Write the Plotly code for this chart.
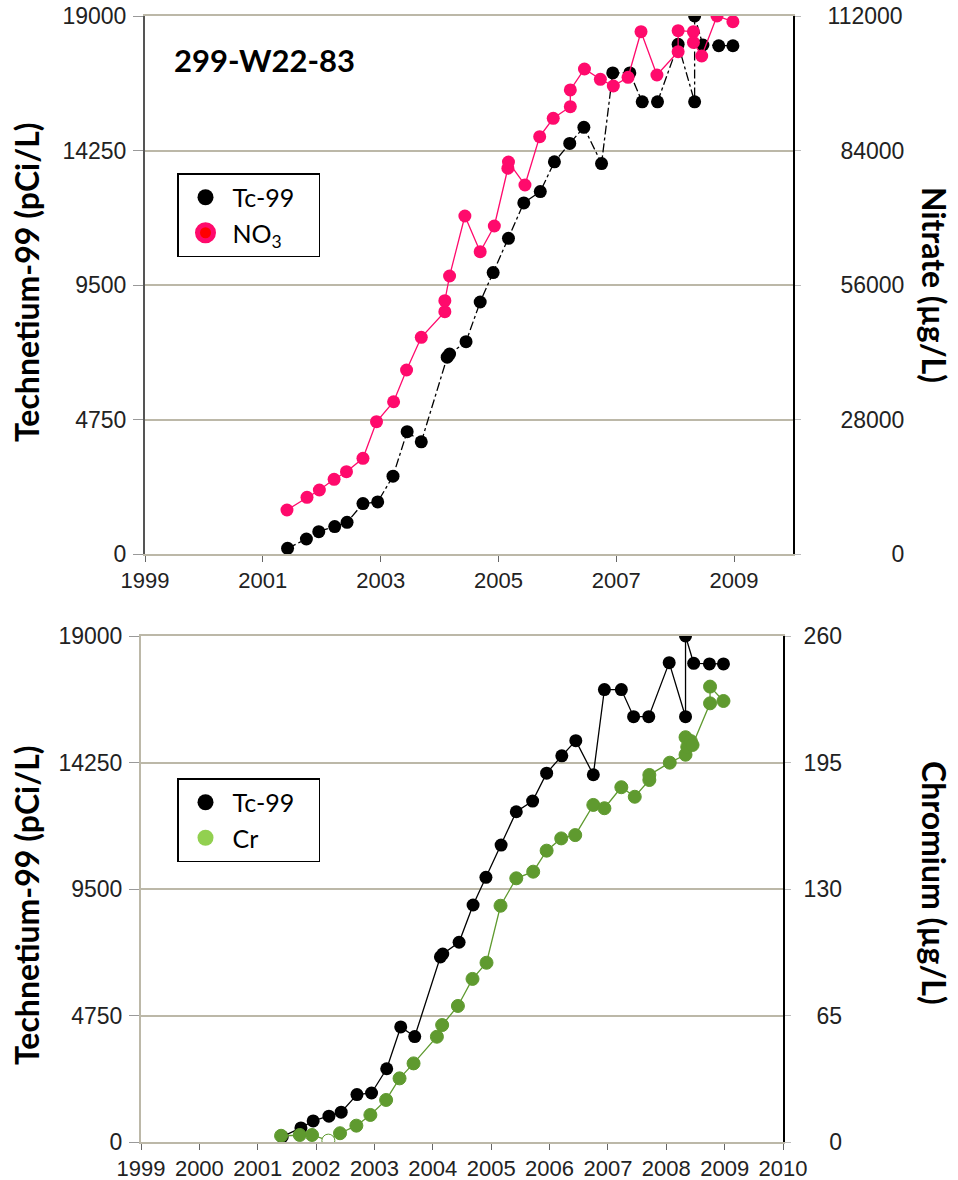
import plotly.graph_objects as go

# ---------------- data ----------------
tc_year = [2001.42, 2001.74, 2001.95, 2002.22, 2002.43, 2002.70, 2002.95, 2003.21, 2003.45, 2003.69,
           2004.13, 2004.17, 2004.45, 2004.69, 2004.91, 2005.17, 2005.43, 2005.71, 2005.95, 2006.21,
           2006.45, 2006.75, 2006.94, 2007.23, 2007.44, 2007.70, 2008.05, 2008.33, 2008.33, 2008.47,
           2008.74, 2008.98]
tc_val = [200, 530, 790, 970, 1120, 1780, 1840, 2750, 4320, 3960,
          6950, 7060, 7500, 8900, 9940, 11150, 12400, 12800, 13850, 14500,
          15070, 13790, 16990, 16990, 15970, 15970, 18000, 15970, 19000, 17975,
          17950, 17950]

no3_year = [2001.41, 2001.75, 2001.96, 2002.21, 2002.42, 2002.70, 2002.93, 2003.22, 2003.44, 2003.69,
            2004.09, 2004.09, 2004.17, 2004.43, 2004.69, 2004.93, 2005.16, 2005.17, 2005.45, 2005.70,
            2005.93, 2006.22, 2006.22, 2006.46, 2006.73, 2006.95, 2007.20, 2007.42, 2007.69, 2008.05,
            2008.05, 2008.31, 2008.31, 2008.45, 2008.71, 2008.98]
no3_val = [9160, 11800, 13320, 15550, 17130, 19920, 27540, 31700, 38300, 45110,
           50440, 52730, 57870, 70360, 62930, 68280, 80300, 81600, 76820, 86880,
           90700, 93120, 96600, 100970, 98820, 97430, 99240, 108730, 99720, 104570,
           108940, 108730, 106500, 103670, 112000, 110810]

cr_year = [2001.40, 2001.72, 2001.93, 2002.21, 2002.41, 2002.69, 2002.93, 2003.20, 2003.43, 2003.67,
           2004.07, 2004.16, 2004.43, 2004.68, 2004.92, 2005.16, 2005.43, 2005.72, 2005.95, 2006.20,
           2006.44, 2006.75, 2006.94, 2007.23, 2007.46, 2007.71, 2007.71, 2008.06, 2008.33, 2008.33,
           2008.36, 2008.42, 2008.45, 2008.75, 2008.75, 2008.98]
cr_val = [3.2, 3.6, 3.6, 0.7, 4.5, 8.4, 13.9, 21.6, 32.7, 40.4,
          54.1, 60.1, 69.9, 83.8, 92.1, 121.4, 135.5, 138.9, 149.7, 156.0,
          157.7, 173.2, 171.5, 182.3, 177.4, 186.0, 188.6, 194.9, 199.0, 208.0,
          203.0, 206.0, 204.0, 225.4, 234.0, 226.6]
cr_nondetect = [False, False, False, True] + [False] * 32

tc_ticks = [0, 4750, 9500, 14250, 19000]
no3_ticks = [0, 28000, 56000, 84000, 112000]
cr_ticks = [0, 65, 130, 195, 260]
top_year_ticks = [1999, 2001, 2003, 2005, 2007, 2009]
bottom_year_ticks = list(range(1999, 2011))

# ---------------- styling / layout ----------------
W, H = 958, 1180
BLACK = "#000000"
PINK = "#ff0a6c"
GREEN = "#5f9a2f"
GREEN_LEG = "#92d050"
GRID = "#bcb8a8"
TICKFONT = dict(family="Liberation Sans, Arial, sans-serif", size=23, color="#222222")
XTICKFONT = dict(family="Liberation Sans, Arial, sans-serif", size=22, color="#222222")
TITLEFONT = "Lato, Open Sans, sans-serif"
NBSP = "\u00a0"

def px_x(p):
    return p / W

def px_y(p):
    return 1 - p / H

def rpad(labels):
    width = max(len(str(v)) for v in labels)
    return ["\u2007" * (width - len(str(v))) + str(v) for v in labels]

fig = go.Figure()

# top chart
fig.add_trace(go.Scatter(x=no3_year, y=no3_val, mode="lines+markers", xaxis="x", yaxis="y2",
                         line=dict(color=PINK, width=1.3),
                         marker=dict(color=PINK, size=13, symbol="circle"), showlegend=False))
fig.add_trace(go.Scatter(x=tc_year, y=tc_val, mode="lines+markers", xaxis="x", yaxis="y",
                         line=dict(color=BLACK, width=1.3, dash="dashdot"),
                         marker=dict(color=BLACK, size=13), showlegend=False))
# legend entries (top)
fig.add_trace(go.Scatter(x=[None], y=[None], mode="markers", xaxis="x", yaxis="y",
                         marker=dict(color=BLACK, size=20), name="Tc-99" + NBSP * 3, legend="legend"))
fig.add_trace(go.Scatter(x=[None], y=[None], mode="markers", xaxis="x", yaxis="y",
                         marker=dict(color="#ff0000", size=20, line=dict(color=PINK, width=5)),
                         name="NO<sub>3</sub>", legend="legend"))

# bottom chart
fig.add_trace(go.Scatter(x=tc_year, y=tc_val, mode="lines+markers", xaxis="x2", yaxis="y3",
                         line=dict(color=BLACK, width=1.3),
                         marker=dict(color=BLACK, size=13), showlegend=False))
fig.add_trace(go.Scatter(x=cr_year, y=cr_val, mode="lines+markers", xaxis="x2", yaxis="y4",
                         line=dict(color=GREEN, width=1.3),
                         marker=dict(color=["#ffffff" if nd else GREEN for nd in cr_nondetect],
                                     size=13, line=dict(color=GREEN, width=1)),
                         showlegend=False))
fig.add_trace(go.Scatter(x=[None], y=[None], mode="markers", xaxis="x2", yaxis="y3",
                         marker=dict(color=BLACK, size=20), name="Tc-99" + NBSP * 3, legend="legend2"))
fig.add_trace(go.Scatter(x=[None], y=[None], mode="markers", xaxis="x2", yaxis="y3",
                         marker=dict(color=GREEN_LEG, size=20), name="Cr", legend="legend2"))

top_dom_x = [px_x(145), px_x(793)]
top_dom_y = [px_y(554), px_y(16)]
bot_dom_x = [px_x(141), px_x(783)]
bot_dom_y = [px_y(1142), px_y(636)]

common_x = dict(range=[1999, 2010], showgrid=False, showline=True, linecolor=GRID, linewidth=2,
                mirror=True, ticks="outside", ticklen=6, tickcolor="#666666", tickwidth=1,
                tickfont=XTICKFONT, zeroline=False, ticklabelstandoff=0, automargin=False)

legend_common = dict(bgcolor="#ffffff", bordercolor="#000000", borderwidth=1.5,
                     font=dict(family=TITLEFONT, size=25, color="#000000"),
                     xanchor="left", yanchor="top", itemsizing="trace", itemwidth=44,
                     tracegroupgap=0)

fig.update_layout(
    width=W, height=H, autosize=False,
    margin=dict(l=0, r=0, t=0, b=0, autoexpand=False),
    paper_bgcolor="#ffffff", plot_bgcolor="#ffffff",
    xaxis=dict(domain=top_dom_x, anchor="y", tickvals=top_year_ticks, **common_x),
    yaxis=dict(domain=top_dom_y, anchor="x", range=[0, 19000], tickvals=tc_ticks,
               ticktext=[str(v) for v in tc_ticks],
               showgrid=True, gridcolor=GRID, gridwidth=2, showline=True, linecolor="#555555",
               linewidth=2, ticks="outside", ticklen=10, tickcolor="#999999",
               tickfont=TICKFONT, zeroline=False, ticklabelstandoff=2, automargin=False),
    yaxis2=dict(overlaying="y", anchor="x", side="right", range=[0, 112000], tickvals=no3_ticks,
                ticktext=rpad(no3_ticks), showgrid=False, showline=True, linecolor="#000000",
                linewidth=2, ticks="outside", ticklen=6, tickcolor="#bbbbbb",
                tickfont=TICKFONT, zeroline=False, ticklabelstandoff=22, automargin=False),
    xaxis2=dict(domain=bot_dom_x, anchor="y3", tickvals=bottom_year_ticks, **common_x),
    yaxis3=dict(domain=bot_dom_y, anchor="x2", range=[0, 19000], tickvals=tc_ticks,
                ticktext=[str(v) for v in tc_ticks],
                showgrid=True, gridcolor=GRID, gridwidth=2, showline=True, linecolor=GRID,
                linewidth=2, ticks="outside", ticklen=10, tickcolor="#999999",
                tickfont=TICKFONT, zeroline=False, ticklabelstandoff=2, automargin=False),
    yaxis4=dict(overlaying="y3", anchor="x2", side="right", range=[0, 260], tickvals=cr_ticks,
                ticktext=rpad(cr_ticks), showgrid=False, showline=True, linecolor="#000000",
                linewidth=2, ticks="outside", ticklen=6, tickcolor="#bbbbbb",
                tickfont=TICKFONT, zeroline=False, ticklabelstandoff=8, automargin=False),
    legend=dict(x=px_x(177), y=px_y(173), **legend_common),
    legend2=dict(x=px_x(177), y=px_y(778), **legend_common),
)

ann_font = dict(family=TITLEFONT, size=32, color="#000000")
fig.add_annotation(text="<b>299-W22-83</b>", xref="paper", yref="paper", x=px_x(172), y=px_y(60),
                   xanchor="left", yanchor="middle", showarrow=False,
                   font=dict(family=TITLEFONT, size=31, color="#000000"))
for text, xp, yp, ang in [("<b>Technetium-99 (pCi/L)</b>", 26, 282, -90),
                          ("<b>Nitrate (µg/L)</b>", 935, 285, 90),
                          ("<b>Technetium-99 (pCi/L)</b>", 26, 905, -90),
                          ("<b>Chromium (µg/L)</b>", 935, 883, 90)]:
    fig.add_annotation(text=text, xref="paper", yref="paper", x=px_x(xp), y=px_y(yp),
                       xanchor="center", yanchor="middle", textangle=ang,
                       showarrow=False, font=ann_font)

fig.write_html("out.html", config={"displayModeBar": False},
               post_script="document.body.style.margin='0';document.body.style.overflow='hidden';")
